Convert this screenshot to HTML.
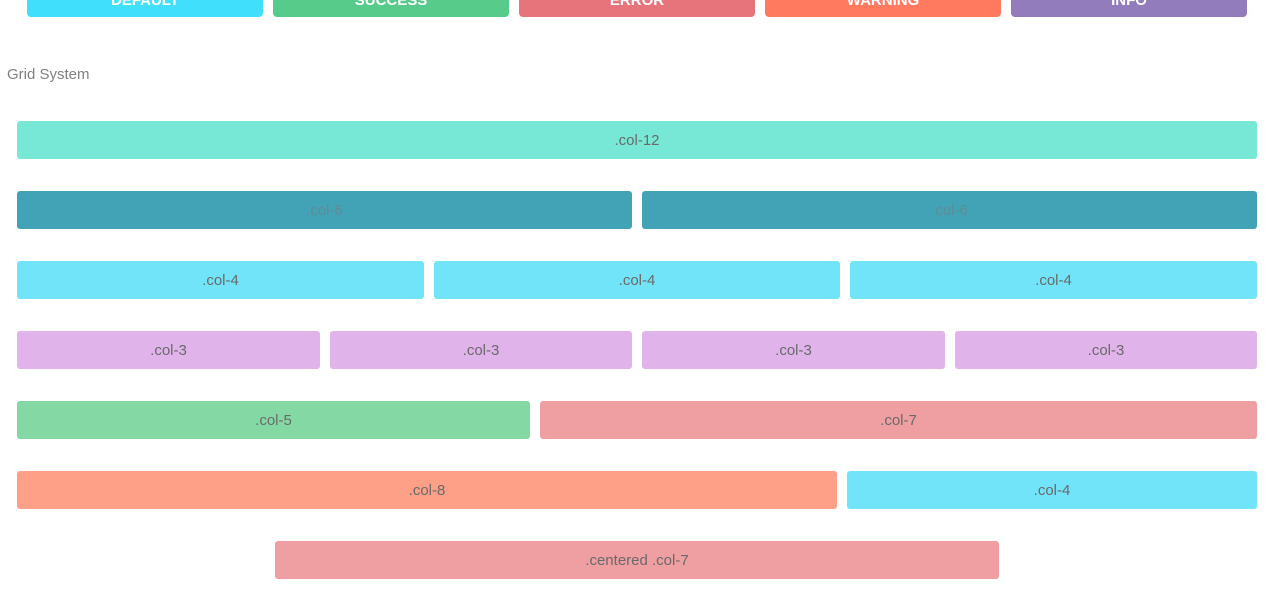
<!DOCTYPE html>
<html><head><meta charset="utf-8"><style>
body{margin:0;width:1274px;height:591px;background:#fff;position:relative;overflow:hidden;font-family:"Liberation Sans",sans-serif}
.btn{position:absolute;top:-20px;height:37px;width:236px;border-radius:0 0 4px 4px;color:#fff;font-weight:bold;font-size:15px;text-align:center;line-height:41px;overflow:hidden}
.c{position:absolute;height:38px;border-radius:3px;text-align:center;line-height:40px;font-size:15px;color:#6a6a6a}
#title{position:absolute;left:7px;top:66px;font-size:15px;color:#808080}
</style></head><body>
<div class="btn" style="left:27px;background:#40e0fc">DEFAULT</div>
<div class="btn" style="left:273px;background:#57cc8a">SUCCESS</div>
<div class="btn" style="left:519px;background:#e8747b">ERROR</div>
<div class="btn" style="left:765px;background:#ff7a5f">WARNING</div>
<div class="btn" style="left:1011px;background:#927cbc">INFO</div>
<div id="title">Grid System</div>

<div class="c" style="left:17px;top:121px;width:1240px;background:#76e8d5">.col-12</div>

<div class="c" style="left:17px;top:191px;width:615px;background:#43a3b6;color:#5f8c96">.col-6</div>
<div class="c" style="left:642px;top:191px;width:615px;background:#43a3b6;color:#5f8c96">.col-6</div>

<div class="c" style="left:17px;top:261px;width:407px;background:#71e4f9">.col-4</div>
<div class="c" style="left:434px;top:261px;width:406px;background:#71e4f9">.col-4</div>
<div class="c" style="left:850px;top:261px;width:407px;background:#71e4f9">.col-4</div>

<div class="c" style="left:17px;top:331px;width:303px;background:#e0b3eb">.col-3</div>
<div class="c" style="left:330px;top:331px;width:302px;background:#e0b3eb">.col-3</div>
<div class="c" style="left:642px;top:331px;width:303px;background:#e0b3eb">.col-3</div>
<div class="c" style="left:955px;top:331px;width:302px;background:#e0b3eb">.col-3</div>

<div class="c" style="left:17px;top:401px;width:513px;background:#83d8a3">.col-5</div>
<div class="c" style="left:540px;top:401px;width:717px;background:#ef9ea1">.col-7</div>

<div class="c" style="left:17px;top:471px;width:820px;background:#fe9f87">.col-8</div>
<div class="c" style="left:847px;top:471px;width:410px;background:#71e4f9">.col-4</div>

<div class="c" style="left:275px;top:541px;width:724px;background:#ef9ea1">.centered .col-7</div>
</body></html>
